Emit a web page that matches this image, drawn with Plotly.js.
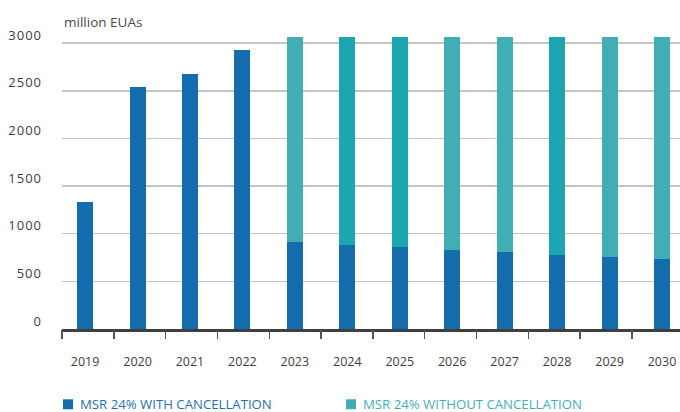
<!DOCTYPE html>
<html>
<head>
<meta charset="utf-8">
<script src="https://cdn.plot.ly/plotly-3.0.1.min.js"></script>
<style>
  html, body { margin: 0; padding: 0; background: #fff; }
  #chart { width: 680px; height: 412px; }
  .ytick text { letter-spacing: 1px; }
</style>
</head>
<body>
<div id="chart"></div>
<script>
// Years on the horizontal axis
const years = ['2019', '2020', '2021', '2022', '2023', '2024', '2025', '2026', '2027', '2028', '2029', '2030'];

// MSR holdings with cancellation (million EUAs)
const withCancellation = [1334, 2537, 2676, 2924, 915, 884, 863, 832, 811, 779, 758, 737];

// Additional holdings when no cancellation takes place (stacked on top)
const withoutCancellationExtra = [null, null, null, null, 2148, 2179, 2200, 2231, 2252, 2284, 2305, 2326];

// Y axis ticks
const yTicks = [0, 500, 1000, 1500, 2000, 2500, 3000];

const seriesNames = ['MSR 24% WITH CANCELLATION', 'MSR 24% WITHOUT CANCELLATION'];

const BLUE = '#156cad';
const TEAL = '#41adb5';
const TEAL_DARK = '#1ba6b0';
const tealShades = [TEAL, TEAL, TEAL, TEAL, TEAL, TEAL_DARK, TEAL_DARK, TEAL, TEAL, TEAL_DARK, TEAL, TEAL];

const idx = years.map((_, i) => i);
const xRange = [-0.44, 11.343];
// category boundaries for the outside tick marks
const boundaries = [];
for (let k = 0; k < years.length; k++) boundaries.push(-0.4385 + 0.9876 * k);

const font = 'Open Sans, Noto Sans, sans-serif';
const TEXT = '#404040';

const traces = [
  {
    type: 'bar', x: idx, y: withCancellation, name: seriesNames[0],
    marker: { color: BLUE }, width: 0.305, showlegend: false, hoverinfo: 'x+y'
  },
  {
    type: 'bar', x: idx, y: withoutCancellationExtra, name: seriesNames[1],
    marker: { color: tealShades }, width: 0.305, showlegend: false, hoverinfo: 'x+y'
  },
  // invisible helper so the tick-mark axis is drawn
  {
    type: 'scatter', x: [0], y: [0], xaxis: 'x2', mode: 'markers',
    marker: { opacity: 0 }, showlegend: false, hoverinfo: 'skip'
  }
];

const legendY = 405;
const H = 412, W = 680;
const T = 23.6, B = 82.5, L = 62;
const plotH = H - T - B, plotW = W - L;
const py = (pix) => (H - B - pix) / plotH;   // pixel row -> paper y
const px = (pix) => (pix - L) / plotW;       // pixel column -> paper x

const layout = {
  width: W, height: H,
  margin: { l: L, r: 0, t: T, b: B },
  paper_bgcolor: '#fff', plot_bgcolor: '#fff',
  barmode: 'stack',
  bargap: 0,
  font: { family: font, color: TEXT, size: 12.5 },
  xaxis: {
    range: xRange, tickmode: 'array', tickvals: idx, ticktext: years,
    ticks: '', showgrid: false, zeroline: false,
    showline: true, linecolor: '#3f3f3f', linewidth: 2.5,
    ticklabelstandoff: 19,
    tickfont: { family: font, size: 12.5, color: TEXT },
    fixedrange: true
  },
  xaxis2: {
    overlaying: 'x', anchor: 'y', side: 'bottom', range: xRange,
    tickmode: 'array', tickvals: boundaries, showticklabels: false,
    ticks: 'outside', ticklen: 9, tickwidth: 1.5, tickcolor: '#555',
    showgrid: false, zeroline: false, showline: false, fixedrange: true
  },
  yaxis: {
    range: [0, 3200], tickmode: 'array', tickvals: yTicks,
    showgrid: true, gridcolor: '#c4c4c4', gridwidth: 1.6,
    zeroline: false, showline: false, ticks: '',
    ticklabelshift: -8, ticklabelstandoff: 19,
    tickfont: { family: font, size: 13, color: TEXT },
    fixedrange: true
  },
  annotations: [
    {
      xref: 'paper', yref: 'paper', x: 0, y: py(22),
      xanchor: 'left', yanchor: 'middle', showarrow: false,
      text: 'million EUAs', font: { family: font, size: 13.5, color: '#4a4a4a' }
    },
    {
      xref: 'paper', yref: 'paper', x: px(78), y: py(legendY),
      xanchor: 'left', yanchor: 'middle', showarrow: false,
      text: seriesNames[0], font: { family: font, size: 13.2, color: '#2471b0' }
    },
    {
      xref: 'paper', yref: 'paper', x: px(361), y: py(legendY),
      xanchor: 'left', yanchor: 'middle', showarrow: false,
      text: seriesNames[1], font: { family: font, size: 13.2, color: '#3fb0b8' }
    }
  ],
  shapes: [
    {
      type: 'rect', xref: 'paper', yref: 'paper',
      x0: px(63), x1: px(73), y0: py(410), y1: py(400),
      fillcolor: BLUE, line: { width: 0 }
    },
    {
      type: 'rect', xref: 'paper', yref: 'paper',
      x0: px(346), x1: px(356), y0: py(410), y1: py(400),
      fillcolor: TEAL, line: { width: 0 }
    }
  ]
};

Plotly.newPlot('chart', traces, layout, { displayModeBar: false, staticPlot: true });
</script>
</body>
</html>
